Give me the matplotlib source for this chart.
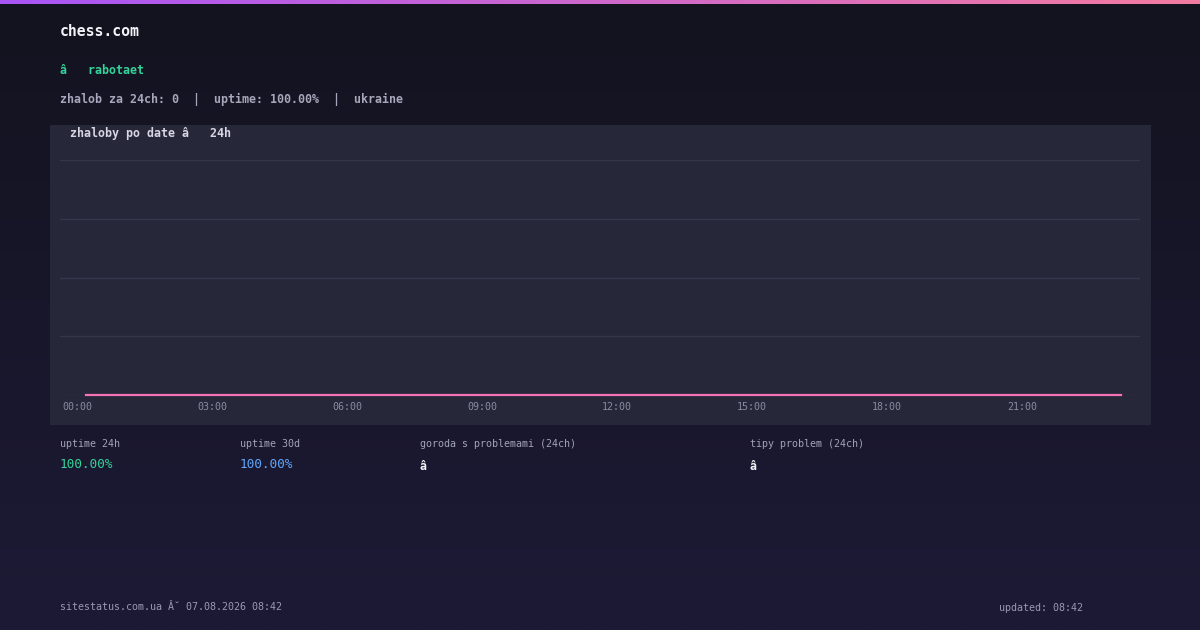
import numpy as np
import matplotlib
matplotlib.use("Agg")
import matplotlib.pyplot as plt
from matplotlib.patches import Rectangle
from matplotlib.colors import LinearSegmentedColormap
from matplotlib.transforms import ScaledTranslation

# data
hours = ["%02d:00" % h for h in range(24)]
complaints = [0, 0, 0, 0, 0, 0, 0, 0, 0, 0, 0, 0,
              0, 0, 0, 0, 0, 0, 0, 0, 0, 0, 0, 0]
tick_hours = ["00:00", "03:00", "06:00", "09:00", "12:00", "15:00", "18:00", "21:00"]

site = "chess.com"
status = "â   rabotaet"
stats = "zhalob za 24ch: 0  |  uptime: 100.00%  |  ukraine"
panel_title = "zhaloby po date â   24h"
metric_labels = ["uptime 24h", "uptime 30d", "goroda s problemami (24ch)", "tipy problem (24ch)"]
metric_values = ["100.00%", "100.00%", "â", "â"]
footer_left = "sitestatus.com.ua Â˘ 07.08.2026 08:42"
footer_right = "updated: 08:42"

W, H = 1200, 630
MONO = ["DejaVu Sans Mono"]


def fx(px):
    return px / W


def fy(py):
    return 1 - py / H


fig = plt.figure(figsize=(12, 6.3), dpi=100)

# page background, vertical gradient
bg = fig.add_axes([0, 0, 1, 1], zorder=-10)
bg_cmap = LinearSegmentedColormap.from_list("bg", ["#13131f", "#1d1a36"], N=1024)
bg.imshow(np.linspace(0, 1, 630).reshape(-1, 1), cmap=bg_cmap, aspect="auto",
          extent=[0, 1, 0, 1], origin="upper", interpolation="bilinear")
bg.set_axis_off()

# top accent bar
bar = fig.add_axes([0, fy(4), 1, 4 / H], zorder=-5)
bar_cmap = LinearSegmentedColormap.from_list("bar", ["#a855f7", "#f47ba0"], N=1024)
bar.imshow(np.linspace(0, 1, 1200).reshape(1, -1), cmap=bar_cmap, aspect="auto")
bar.set_axis_off()

# chart panel
fig.patches.append(Rectangle((fx(50), fy(425)), fx(1101), 300 / H,
                             transform=fig.transFigure, facecolor="#262739",
                             edgecolor="none", zorder=-4))

ax = fig.add_axes([fx(60), fy(395), fx(1080), 235 / H])
ax.set_facecolor("none")
x = np.arange(len(hours))
ax.plot(x, complaints, color="#f472b6", lw=1.6, clip_on=False, zorder=3)
ax.set_xlim(-26 / 45, 23 + 19 / 45)
ax.set_ylim(0, 1)
ax.set_yticks([0, 0.25, 0.5, 0.75, 1])
ax.set_yticklabels([])
ax.grid(axis="y", color="#35364a", lw=1)
ax.set_xticks([hours.index(t) for t in tick_hours])
ax.set_xticklabels(tick_hours, fontsize=7.2, family=MONO, color="#8b8ba3")
ax.tick_params(length=0, pad=5)
off = ScaledTranslation(-9 / 100, 0, fig.dpi_scale_trans)
for lab in ax.get_xticklabels():
    lab.set_transform(lab.get_transform() + off)
for s in ax.spines.values():
    s.set_visible(False)

# header texts
fig.text(fx(60), fy(31), site, fontsize=10.6, family=MONO, color="#f2f2f7",
         va="center", fontweight="bold")
fig.text(fx(60), fy(71), status, fontsize=8.4, family=MONO, color="#34d399",
         va="center", fontweight="bold")
fig.text(fx(60), fy(99), stats, fontsize=8.4, family=MONO, color="#a6a6bc",
         va="center", fontweight="bold")
fig.text(fx(70), fy(134), panel_title, fontsize=8.4, family=MONO, color="#d6d6e4",
         va="center", fontweight="bold")

# metrics row
metric_x = [60, 240, 420, 750]
value_colors = ["#34d399", "#60a5fa", "#f2f2f7", "#f2f2f7"]
value_sizes = [9.2, 9.2, 8.4, 8.4]
value_y = [464, 464, 466, 466]
for i in range(len(metric_labels)):
    fig.text(fx(metric_x[i]), fy(444), metric_labels[i], fontsize=7.2, family=MONO,
             color="#a3a3b8", va="center")
    fig.text(fx(metric_x[i]), fy(value_y[i]), metric_values[i], fontsize=value_sizes[i],
             family=MONO, color=value_colors[i], va="center",
             fontweight="bold" if i >= 2 else "normal")

# footer
fig.text(fx(60), fy(607), footer_left, fontsize=7.2, family=MONO, color="#9a9ab0",
         va="center")
fig.text(fx(1083), fy(608), footer_right, fontsize=7.2, family=MONO, color="#9a9ab0",
         va="center", ha="right")

fig.savefig("out.png", dpi=100)
